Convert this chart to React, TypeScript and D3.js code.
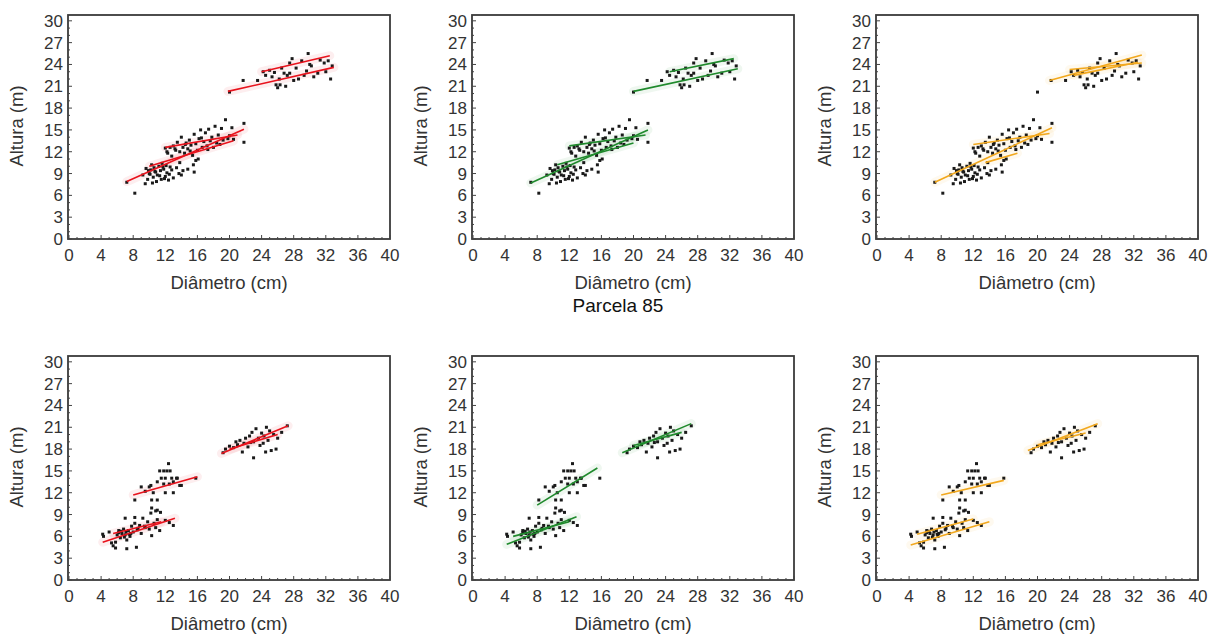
import React from "react";
import * as d3 from "d3";

// ---------- data ----------
const xTicks = [0, 4, 8, 12, 16, 20, 24, 28, 32, 36, 40];
const yTicks = [0, 3, 6, 9, 12, 15, 18, 21, 24, 27, 30];

// Top row scatter (same in the three panels)
const topDiam = [
  7.2, 8.2, 9.2, 9.5, 9.8, 10.0, 10.2, 10.5, 10.6, 10.8, 11.0, 11.2, 11.4, 11.5, 11.8, 12.0, 12.2, 12.4, 12.6, 13.0,
  10.3, 11.6, 12.8, 13.4, 14.0, 14.2, 13.8, 9.6, 10.9, 11.9, 12.1, 10.4,
  12.0, 12.3, 12.6, 12.8, 13.0, 13.3, 13.5, 13.8, 14.0, 14.2, 14.4, 14.6, 14.8, 15.0, 15.2, 15.4, 15.6, 15.8,
  16.0, 16.2, 16.4, 16.6, 16.8, 17.0, 17.2, 17.4, 17.6, 17.8, 18.0, 18.2, 18.4, 18.6, 18.8, 19.0, 19.2, 19.5,
  19.8, 20.0, 20.3, 21.8, 21.8, 20.5, 15.5, 15.8, 15.6, 13.7, 16.1, 14.8, 12.2, 13.2, 14.5, 15.1, 16.5, 17.3,
  10.1, 10.7, 11.3, 11.7, 9.9, 12.5,
  20.0, 21.7, 23.5, 24.2, 24.5, 25.0, 25.3, 25.8, 26.0, 26.2, 26.5, 26.8, 27.0, 27.2, 27.5, 27.8, 28.0, 28.3,
  28.6, 29.0, 29.3, 29.8, 30.2, 30.5, 31.0, 31.3, 32.0, 32.3, 32.6, 32.8, 26.3, 27.5, 30.0, 25.6, 29.6, 31.8,
];
const topHeight = [
  7.8, 6.3, 8.8, 7.6, 8.2, 9.0, 9.5, 8.5, 9.8, 9.2, 8.8, 10.0, 9.4, 8.2, 9.6, 8.6, 9.1, 8.1, 9.9, 8.4,
  10.2, 10.4, 9.5, 9.8, 8.8, 9.4, 10.5, 9.7, 7.9, 8.3, 10.1, 7.7,
  12.5, 11.8, 12.6, 11.4, 12.8, 12.2, 13.3, 12.0, 14.0, 12.6, 11.8, 13.2, 12.4, 13.6, 12.9, 11.5, 14.4, 13.1,
  12.2, 13.8, 15.0, 12.6, 13.4, 14.6, 12.8, 15.1, 13.5, 14.0, 12.6, 15.5, 13.2, 14.3, 13.0, 15.2, 13.6, 16.4,
  13.8, 14.2, 15.3, 15.9, 13.3, 13.7, 10.2, 10.8, 9.2, 9.0, 11.0, 9.6, 12.0, 12.4, 13.0, 12.1, 13.9, 12.3,
  8.9, 9.3, 8.7, 9.9, 9.4, 8.9,
  20.2, 21.8, 21.8, 23.0, 22.5, 23.2, 22.3, 21.2, 20.8, 22.0, 23.5, 22.8, 21.0, 22.5, 24.2, 24.8, 21.8, 23.5,
  22.0, 24.5, 22.5, 25.5, 23.8, 22.3, 22.8, 24.6, 23.0, 24.5, 22.0, 23.8, 21.2, 22.8, 24.0, 22.9, 23.1, 24.2,
];

// Bottom row scatter (Parcela 85)
const botDiam = [
  4.2, 4.3, 5.0, 5.3, 5.5, 5.8, 6.0, 6.2, 6.4, 6.6, 6.8, 7.0, 7.2, 7.2, 7.4, 7.6, 7.8, 8.0, 8.2, 8.4,
  8.5, 8.8, 9.0, 9.2, 9.5, 9.8, 10.0, 10.3, 10.6, 10.8, 11.0, 11.3, 12.0, 12.5, 13.0, 7.0, 8.2, 6.2, 7.5, 5.8,
  6.5, 7.1, 7.7, 6.9, 8.6, 9.4,
  10.2, 10.3, 10.8, 11.0, 11.4,
  8.2, 9.0, 9.5, 10.0, 10.3, 10.5, 11.0, 11.0, 11.3, 11.5, 11.8, 12.0, 12.0, 12.2, 12.4, 12.6, 12.8, 13.0,
  13.0, 13.4, 13.8, 13.5, 12.5, 10.2, 11.8, 14.0, 15.8,
  19.2, 19.5, 20.0, 20.5, 20.8, 21.0, 21.3, 21.6, 21.8, 22.0, 22.3, 22.5, 22.8, 23.0, 23.0, 23.3, 23.6, 23.8,
  24.0, 24.3, 24.5, 24.6, 24.8, 25.0, 25.2, 25.5, 25.8, 26.0, 26.5, 27.2, 24.2, 22.6,
];
const botHeight = [
  6.3, 6.0, 6.6, 5.1, 4.7, 4.4, 6.2, 6.8, 5.8, 6.4, 7.0, 6.2, 5.5, 4.3, 6.8, 6.0, 7.4, 6.6, 7.8, 4.5,
  6.9, 7.5, 6.4, 8.5, 7.2, 8.0, 7.0, 6.1, 7.8, 7.2, 8.3, 6.8, 8.2, 7.9, 7.5, 8.5, 8.6, 6.5, 6.3, 5.2,
  6.7, 6.6, 6.4, 5.9, 7.1, 7.4,
  9.2, 9.9, 9.5, 9.6, 9.3,
  11.0, 12.8, 12.2, 12.8, 11.0, 12.0, 11.0, 13.5, 15.0, 14.0, 15.0, 12.0, 14.0, 15.0, 16.0, 15.0, 14.0, 13.5,
  12.0, 14.0, 13.0, 14.0, 13.2, 13.0, 13.2, 13.0, 14.0,
  17.5, 18.0, 18.4, 18.2, 19.0, 18.6, 19.2, 17.6, 18.8, 19.5, 18.3, 19.8, 20.3, 16.8, 19.0, 20.8, 19.5, 18.5,
  20.2, 19.8, 17.6, 21.0, 19.2, 20.5, 17.8, 20.0, 18.0, 19.5, 20.3, 21.2, 18.8, 18.9,
];

// Fitted model segments [[x1, y1], [x2, y2]]
const topRedLines = [
  [[7.2, 7.9], [21.8, 15.1]],
  [[10.0, 10.0], [20.5, 13.5]],
  [[12.0, 12.6], [21.0, 14.3]],
  [[19.8, 20.3], [33.0, 23.6]],
  [[24.0, 23.0], [32.5, 25.2]],
];
const topGreenLines = [
  [[7.2, 7.7], [21.8, 15.0]],
  [[10.5, 10.2], [20.0, 13.2]],
  [[12.0, 12.8], [21.5, 14.3]],
  [[20.0, 20.3], [33.0, 23.4]],
  [[24.5, 23.0], [32.5, 24.8]],
];
const topOrangeLines = [
  [[7.2, 7.8], [21.8, 15.3]],
  [[12.0, 13.0], [21.5, 14.5]],
  [[13.5, 10.5], [17.5, 11.8]],
  [[21.5, 21.8], [33.0, 25.3]],
  [[24.5, 22.5], [32.5, 24.3]],
  [[24.0, 23.3], [33.0, 24.2]],
];
const botRedLines = [
  [[4.2, 5.2], [13.2, 8.5]],
  [[5.5, 6.4], [11.5, 8.0]],
  [[8.0, 11.7], [16.0, 14.2]],
  [[19.0, 17.4], [27.3, 21.2]],
  [[20.0, 18.0], [26.0, 20.0]],
];
const botGreenLines = [
  [[4.2, 4.9], [12.9, 8.7]],
  [[5.0, 6.0], [12.0, 8.0]],
  [[8.0, 10.3], [15.5, 15.4]],
  [[18.6, 17.5], [27.2, 21.5]],
  [[20.0, 18.5], [26.0, 20.3]],
];
const botOrangeLines = [
  [[4.2, 4.8], [14.0, 8.0]],
  [[5.0, 6.3], [12.0, 8.4]],
  [[8.0, 11.7], [15.8, 13.7]],
  [[18.8, 17.8], [27.5, 21.5]],
  [[20.0, 18.6], [26.0, 20.2]],
];

const RED = "#e8121c";
const GREEN = "#1f8a2c";
const ORANGE = "#f2a81d";

const xTitle = "Diâmetro (cm)";
const yTitle = "Altura (m)";
const middleTitle = "Parcela 85";

// ---------- layout ----------
const FONT = "'Liberation Sans', Arial, sans-serif";
const colLefts = [68, 472, 876];
const rowTops = [15, 356];
const PW = 322;
const PH = 224;

type Seg = number[][];

function Panel({ left, top, diam, height, lines, color }: {
  left: number; top: number; diam: number[]; height: number[]; lines: Seg[]; color: string;
}) {
  const x = d3.scaleLinear().domain([0, 40]).range([left + 1, left + PW]);
  const y = d3.scaleLinear().domain([0, 30.8]).range([top + PH, top]);
  const line = d3.line<number[]>().x((d) => x(d[0])).y((d) => y(d[1]));
  const minorX = d3.range(0, 41, 1);
  const minorY = d3.range(0, 31, 1);
  const pts = diam.map((d, i) => [d, height[i]]);
  return (
    <g>
      <rect x={left} y={top} width={PW} height={PH} fill="#fff" stroke="#3a3a3a" strokeWidth={1.8} />
      {minorX.map((t) => (
        <line key={"mx" + t} x1={x(t)} x2={x(t)} y1={top + PH} y2={top + PH - (t % 4 === 0 ? 4 : 2)} stroke="#444" strokeWidth={1} />
      ))}
      {minorY.map((t) => (
        <line key={"my" + t} x1={left} x2={left + (t % 3 === 0 ? 4 : 2)} y1={y(t)} y2={y(t)} stroke="#444" strokeWidth={1} />
      ))}
      {xTicks.map((t) => (
        <text key={"xt" + t} x={x(t)} y={top + PH + 22} textAnchor="middle" fontSize={17} fill="#333" fontFamily={FONT}>
          {t}
        </text>
      ))}
      {yTicks.map((t) => (
        <text key={"yt" + t} x={left - 5} y={y(t) + 6} textAnchor="end" fontSize={17} fill="#333" fontFamily={FONT}>
          {t}
        </text>
      ))}
      <text x={left + PW / 2} y={top + PH + 50} textAnchor="middle" fontSize={18.5} fill="#333" fontFamily={FONT}>
        {xTitle}
      </text>
      <text
        transform={`translate(${left - 45},${top + PH / 2 - 1}) rotate(-90)`}
        textAnchor="middle"
        fontSize={18.5}
        fill="#333"
        fontFamily={FONT}
      >
        {yTitle}
      </text>
      {lines.map((s, i) => (
        <path key={"h" + i} d={line(s) || ""} stroke={color} strokeWidth={9} strokeOpacity={0.07} fill="none" strokeLinecap="round" />
      ))}
      {pts.map((p, i) => (
        <rect key={"p" + i} x={x(p[0]) - 1.5} y={y(p[1]) - 1.5} width={3} height={3} fill="#1a1a1a" />
      ))}
      {lines.map((s, i) => (
        <path key={"l" + i} d={line(s) || ""} stroke={color} strokeWidth={1.6} fill="none" />
      ))}
    </g>
  );
}

export default function App() {
  const panels = [
    { r: 0, c: 0, diam: topDiam, height: topHeight, lines: topRedLines, color: RED },
    { r: 0, c: 1, diam: topDiam, height: topHeight, lines: topGreenLines, color: GREEN },
    { r: 0, c: 2, diam: topDiam, height: topHeight, lines: topOrangeLines, color: ORANGE },
    { r: 1, c: 0, diam: botDiam, height: botHeight, lines: botRedLines, color: RED },
    { r: 1, c: 1, diam: botDiam, height: botHeight, lines: botGreenLines, color: GREEN },
    { r: 1, c: 2, diam: botDiam, height: botHeight, lines: botOrangeLines, color: ORANGE },
  ];
  return (
    <svg width={1211} height={637} style={{ position: "absolute", left: 0, top: 0, background: "#fff" }}>
      <rect x={0} y={0} width={1211} height={637} fill="#fff" />
      {panels.map((p, i) => (
        <Panel key={i} left={colLefts[p.c]} top={rowTops[p.r]} diam={p.diam} height={p.height} lines={p.lines} color={p.color} />
      ))}
      <text x={618} y={312} textAnchor="middle" fontSize={19} fill="#111" fontFamily={FONT}>
        {middleTitle}
      </text>
    </svg>
  );
}
